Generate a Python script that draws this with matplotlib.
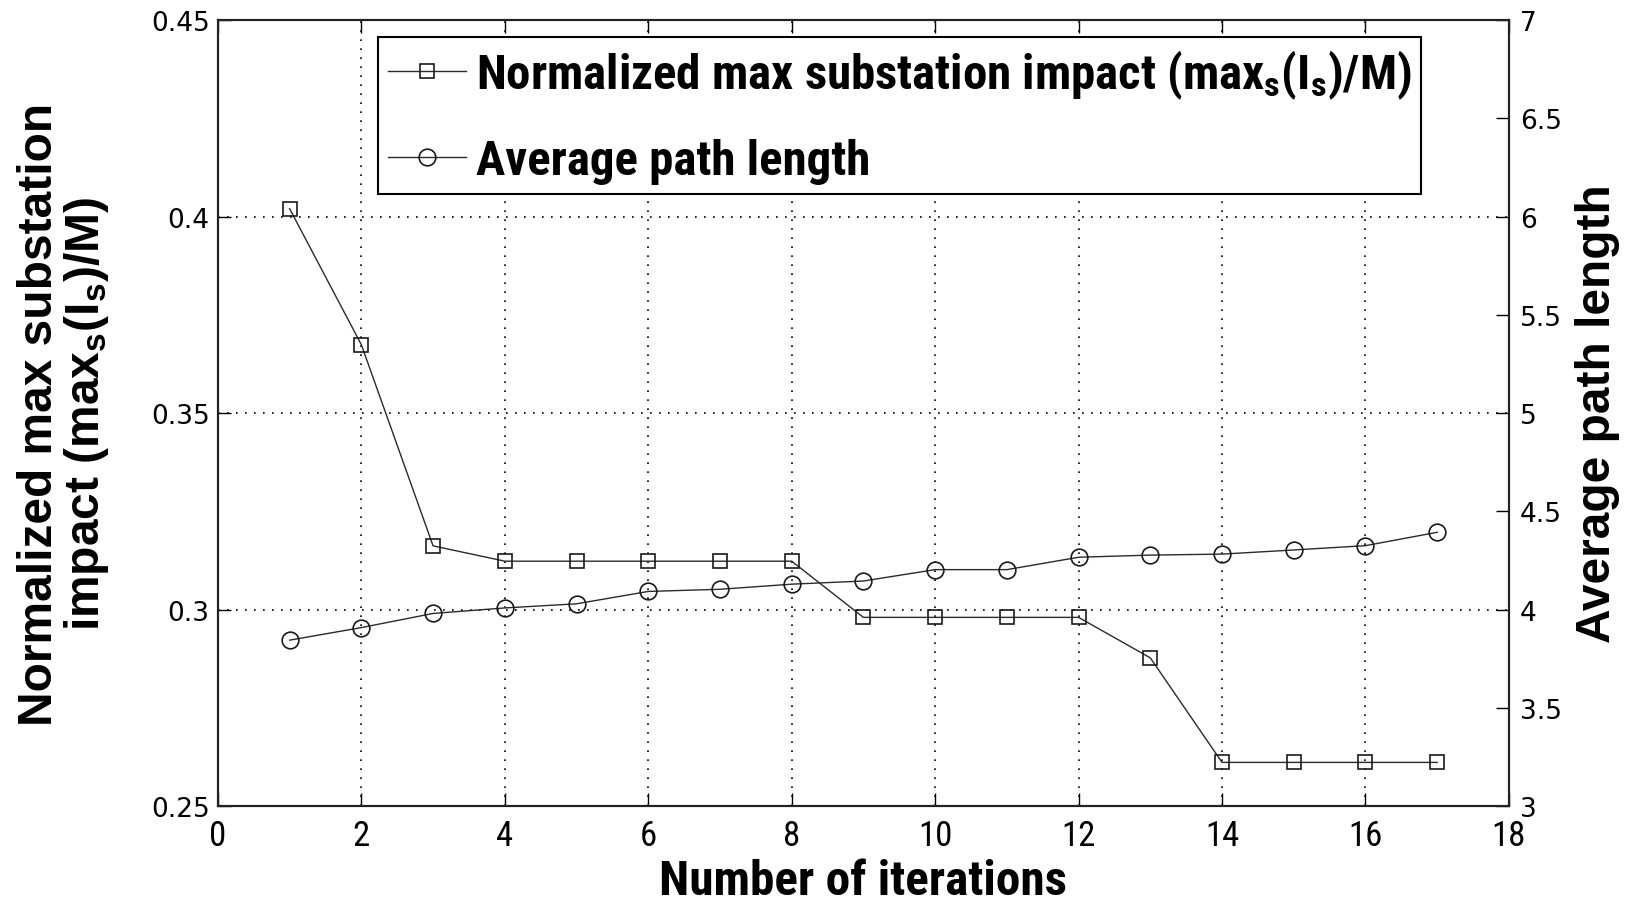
import matplotlib

matplotlib.use("Agg")
import matplotlib.pyplot as plt
from matplotlib import font_manager
from matplotlib.lines import Line2D


def _pick_family(candidates: list[str]) -> str:
    for name in candidates:
        try:
            font_manager.findfont(name, fallback_to_default=False)
            return name
        except Exception:
            continue
    return "DejaVu Sans"


NARROW = _pick_family(["Roboto Condensed", "PT Sans Narrow", "Liberation Sans"])
WIDE = _pick_family(["Liberation Sans", "DejaVu Sans"])
TICKS = "DejaVu Sans"

plt.rcParams["mathtext.fontset"] = "custom"
plt.rcParams["mathtext.rm"] = f"{NARROW}:bold"
plt.rcParams["mathtext.bf"] = f"{NARROW}:bold"
plt.rcParams["mathtext.it"] = f"{NARROW}:bold"
plt.rcParams["mathtext.sf"] = f"{WIDE}:bold"
plt.rcParams["mathtext.default"] = "rm"

# iteration data
iterations = list(range(1, 18))
max_impact = [0.402, 0.3674, 0.3162, 0.3123, 0.3123, 0.3123, 0.3123, 0.3123,
              0.298, 0.298, 0.298, 0.298, 0.2877, 0.2611, 0.2611, 0.2611, 0.2611]
avg_path = [3.844, 3.908, 3.98, 4.008, 4.029, 4.092, 4.103, 4.129, 4.145,
            4.203, 4.203, 4.266, 4.277, 4.282, 4.303, 4.325, 4.393]

x_ticks = list(range(0, 19, 2))
left_ticks = [0.25, 0.3, 0.35, 0.4, 0.45]
left_tick_labels = ["0.25", "0.3", "0.35", "0.4", "0.45"]
right_ticks = [3, 3.5, 4, 4.5, 5, 5.5, 6, 6.5, 7]
right_tick_labels = ["3", "3.5", "4", "4.5", "5", "5.5", "6", "6.5", "7"]

impact_label = r"Normalized max substation impact (max$_{s}$(I$_{s}$)/M)"
path_label = "Average path length"
left_ylabel = "Normalized max substation\n" r"impact (max$_{\mathsf{s}}$(I$_{\mathsf{s}}$)/M)"

fig = plt.figure(figsize=(16.26, 9.03), dpi=100)
ax = fig.add_axes([0.134, 0.1063, 0.794, 0.8704])
ax2 = ax.twinx()

line_kw = dict(color="#2a2a2a", linewidth=1.0, markerfacecolor="none",
               markeredgecolor="#1a1a1a", markeredgewidth=1.2)
ax.plot(iterations, max_impact, marker="s", markersize=10.5, **line_kw)
ax2.plot(iterations, avg_path, marker="o", markersize=12, **line_kw)

ax.set_xlim(0, 18)
ax.set_ylim(0.25, 0.45)
ax2.set_ylim(3, 7)

ax.set_xticks(x_ticks)
ax.set_xticklabels([str(t) for t in x_ticks], family=NARROW, fontsize=25)
ax.set_yticks(left_ticks)
ax.set_yticklabels(left_tick_labels, family=TICKS, fontsize=19)
ax2.set_yticks(right_ticks)
ax2.set_yticklabels(right_tick_labels, family=TICKS, fontsize=19)

ax.tick_params(axis="x", direction="in", length=9.5, width=1.0, top=True, pad=9)
ax.tick_params(axis="y", direction="in", length=9.5, width=1.0, right=False, pad=6)
ax2.tick_params(axis="y", direction="in", length=9.5, width=1.0, pad=8)

ax.grid(True, color="black", linestyle=(0, (1, 4.4)), linewidth=1.2)
for a in (ax, ax2):
    for sp in a.spines.values():
        sp.set_linewidth(1.5)
        sp.set_color("#222222")

ax.set_xlabel("Number of iterations", family=NARROW, fontweight="bold", fontsize=35.5)
ax.xaxis.set_label_coords(0.5, -0.066)
ax.set_ylabel(left_ylabel, family=WIDE, fontweight="bold", fontsize=34.5, linespacing=1.0)
ax.yaxis.set_label_coords(-0.083, 0.5)
ax2.set_ylabel(path_label, family=WIDE, fontweight="bold", fontsize=34.5)
ax2.yaxis.set_label_coords(1.051, 0.5)

handles = [
    Line2D([], [], marker="s", markersize=10.5, **line_kw),
    Line2D([], [], marker="o", markersize=12, **line_kw),
]
leg = ax2.legend(handles, [impact_label, path_label], loc="upper left",
                 bbox_to_anchor=(0.124, 0.978), borderaxespad=0,
                 prop={"family": NARROW, "weight": "bold", "size": 35.2},
                 handlelength=1.6, handletextpad=0.2, labelspacing=0.76,
                 borderpad=0.2, fancybox=False, framealpha=1)
leg.get_frame().set_edgecolor("black")
leg.get_frame().set_linewidth(1.5)

fig.savefig("out.png", dpi=100)
